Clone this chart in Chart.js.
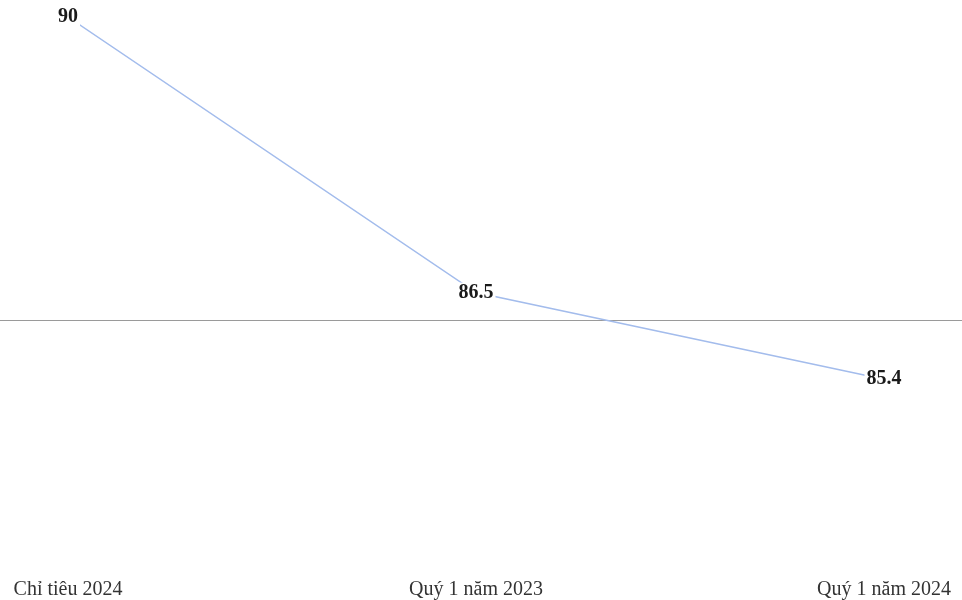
<!DOCTYPE html>
<html>
<head>
<meta charset="utf-8">
<script src="https://cdn.jsdelivr.net/npm/chart.js@4.4.0/dist/chart.umd.min.js"></script>
<style>
	html, body { margin: 0; padding: 0; background: #fff; }
	#wrap { width: 962px; height: 600px; }
</style>
</head>
<body>
<div id="wrap"><canvas id="tyLe"></canvas></div>
<script>
var nhanTruc = ['Chỉ tiêu 2024', 'Quý 1 năm 2023', 'Quý 1 năm 2024'];
var giaTri = [90, 86.5, 85.4];
var duongNen = 86.15;
var yMin = 82.85;
var yMax = 90;

// vẽ đường ngang màu xám chạy hết bề rộng
var duongNgang = {
	id: 'duongNgang',
	beforeDatasetsDraw: function (chart) {
		var ctx = chart.ctx;
		var y = Math.round(chart.scales.y.getPixelForValue(duongNen)) + 0.5;
		ctx.save();
		ctx.strokeStyle = '#9a9a9a';
		ctx.lineWidth = 1;
		ctx.beginPath();
		ctx.moveTo(0, y);
		ctx.lineTo(chart.width, y);
		ctx.stroke();
		ctx.restore();
	}
};

// nhãn giá trị nằm đè lên điểm, nền trắng
var nhanGiaTri = {
	id: 'nhanGiaTri',
	afterDatasetsDraw: function (chart) {
		var ctx = chart.ctx;
		var meta = chart.getDatasetMeta(0);
		ctx.save();
		ctx.font = 'bold 20px "Liberation Serif", "Times New Roman", serif';
		ctx.textAlign = 'center';
		ctx.textBaseline = 'middle';
		meta.data.forEach(function (pt, i) {
			var txt = String(giaTri[i]);
			var w = ctx.measureText(txt).width;
			ctx.fillStyle = '#fff';
			ctx.fillRect(pt.x - w / 2 - 2, pt.y - 10, w + 4, 20);
			ctx.fillStyle = '#1a1a1a';
			ctx.fillText(txt, pt.x, pt.y);
		});
		ctx.restore();
	}
};

new Chart(document.getElementById('tyLe'), {
	type: 'line',
	data: {
		labels: nhanTruc,
		datasets: [{
			data: giaTri,
			borderColor: '#a3bcec',
			borderWidth: 1.5,
			pointRadius: 0,
			tension: 0,
			fill: false
		}]
	},
	options: {
		responsive: true,
		maintainAspectRatio: false,
		animation: false,
		layout: { padding: { top: 17, left: 68, right: 78, bottom: 0 } },
		plugins: {
			legend: { display: false },
			tooltip: { enabled: false }
		},
		scales: {
			x: {
				offset: false,
				grid: { display: false, drawTicks: false },
				border: { display: false },
				ticks: {
					color: '#333',
					maxRotation: 0,
					padding: 0,
					font: { family: '"Liberation Serif", "Times New Roman", serif', size: 20, lineHeight: 1 }
				}
			},
			y: {
				display: false,
				min: yMin,
				max: yMax
			}
		}
	},
	plugins: [duongNgang, nhanGiaTri]
});
</script>
</body>
</html>
